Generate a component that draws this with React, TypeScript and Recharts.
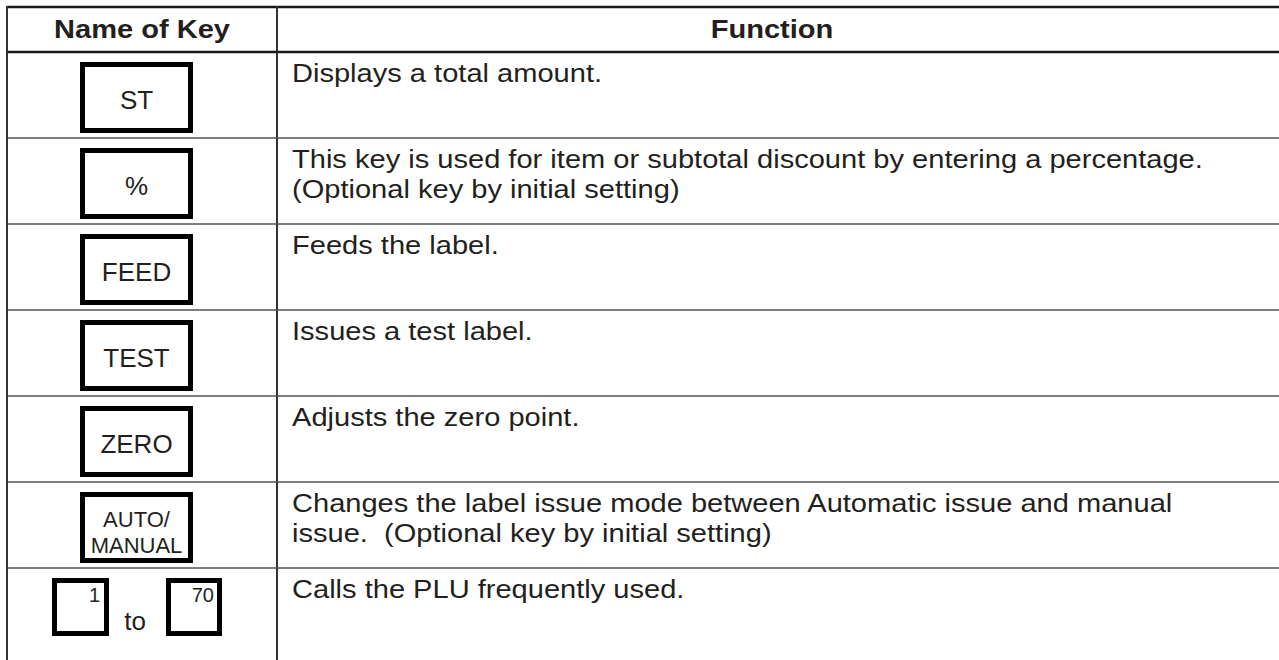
import { BarChart, Bar, XAxis, YAxis } from "recharts";

// table content
const headers = ["Name of Key", "Function"];
const keyNames = ["ST", "%", "FEED", "TEST", "ZERO", "AUTO/MANUAL", "1 to 70"];
const keyLabelLines = [["ST"], ["%"], ["FEED"], ["TEST"], ["ZERO"], ["AUTO/", "MANUAL"], []];
const rangeKeys = ["1", "70"];
const rangeWord = "to";
const functionLines = [
  ["Displays a total amount."],
  [
    "This key is used for item or subtotal discount by entering a percentage.",
    "(Optional key by initial setting)",
  ],
  ["Feeds the label."],
  ["Issues a test label."],
  ["Adjusts the zero point."],
  [
    "Changes the label issue mode between Automatic issue and manual",
    "issue.  (Optional key by initial setting)",
  ],
  ["Calls the PLU frequently used."],
];

const rows = keyNames.map((key, i) => ({
  key,
  label: keyLabelLines[i],
  text: functionLines[i],
}));

const FONT = '"Liberation Sans", Arial, Helvetica, sans-serif';
const INK = "#231f20";
const SX = 1.14; // the scan is a bit wider than tall

const Txt = ({ x, y, size, bold, anchor, stretch = true, children }: any) => (
  <text
    transform={`translate(${x} ${y}) scale(${stretch ? SX : 1} 1)`}
    fontFamily={FONT}
    fontSize={size}
    fontWeight={bold ? 700 : 400}
    textAnchor={anchor || "start"}
    fill={INK}
    style={{ whiteSpace: "pre" }}
  >
    {children}
  </text>
);

const KeyBox = ({ cx, top, w, h }: any) => (
  <rect x={cx - w / 2 + 2.5} y={top + 2.5} width={w - 5} height={h - 5} fill="#fff" stroke="#000" strokeWidth={5} />
);

const RowShape = (props: any) => {
  const { x, y, width, height, payload } = props;
  const i = rows.findIndex((r) => r.key === payload.key);
  const last = i === rows.length - 1;
  const left = x;
  const div = x + 270;
  const right = x + width;
  const bottom = last ? y + height + 20 : y + height;
  const boxTop = y + 10;
  const cx = left + 129.5;

  return (
    <g>
      {i === 0 && (
        <g>
          <line x1={left} x2={right} y1={y - 45} y2={y - 45} stroke="#1a1a1a" strokeWidth={2.5} />
          <line x1={left} x2={left} y1={y - 46} y2={y} stroke="#333" strokeWidth={2} />
          <line x1={div} x2={div} y1={y - 46} y2={y} stroke="#333" strokeWidth={2} />
          <Txt x={left + 135} y={y - 14} size={25.5} bold anchor="middle">
            {headers[0]}
          </Txt>
          <Txt x={div + 495} y={y - 14} size={25.5} bold anchor="middle">
            {headers[1]}
          </Txt>
        </g>
      )}
      <line
        x1={left}
        x2={right}
        y1={y}
        y2={y}
        stroke={i === 0 ? "#1a1a1a" : "#555"}
        strokeWidth={i === 0 ? 2.5 : 1.5}
      />
      <line x1={left} x2={left} y1={y} y2={bottom} stroke="#333" strokeWidth={2} />
      <line x1={div} x2={div} y1={y} y2={bottom} stroke="#333" strokeWidth={2} />

      {payload.label.length > 0 && <KeyBox cx={cx} top={boxTop} w={113} h={71} />}
      {payload.label.length === 1 && (
        <Txt x={cx} y={boxTop + 47} size={26} anchor="middle" stretch={false}>
          {payload.label[0]}
        </Txt>
      )}
      {payload.label.length === 2 &&
        payload.label.map((t: string, j: number) => (
          <Txt key={j} x={cx} y={boxTop + 35 + j * 26} size={22} anchor="middle" stretch={false}>
            {t}
          </Txt>
        ))}
      {payload.label.length === 0 && (
        <g>
          <KeyBox cx={left + 73.5} top={boxTop} w={57} h={58} />
          <KeyBox cx={left + 187} top={boxTop} w={56} h={58} />
          <Txt x={left + 93} y={boxTop + 24} size={20} anchor="end" stretch={false}>
            {rangeKeys[0]}
          </Txt>
          <Txt x={left + 207} y={boxTop + 24} size={20} anchor="end" stretch={false}>
            {rangeKeys[1]}
          </Txt>
          <Txt x={left + 128} y={boxTop + 52} size={26} anchor="middle" stretch={false}>
            {rangeWord}
          </Txt>
        </g>
      )}

      {payload.text.map((t: string, j: number) => (
        <Txt key={j} x={div + 15} y={y + 30 + j * 30} size={25.5}>
          {t}
        </Txt>
      ))}
    </g>
  );
};

export default function App() {
  return (
    <div style={{ position: "fixed", left: 0, top: 0, width: 1279, height: 660, overflow: "hidden", background: "#fff" }}>
      <BarChart
        width={1279}
        height={660}
        data={rows}
        layout="vertical"
        barCategoryGap={0}
        margin={{ top: 52, right: 0, bottom: 6, left: 7 }}
      >
        <XAxis type="number" hide domain={[0, 1]} />
        <YAxis type="category" dataKey="key" hide />
        <Bar dataKey={() => 1} shape={RowShape} isAnimationActive={false} />
      </BarChart>
    </div>
  );
}
